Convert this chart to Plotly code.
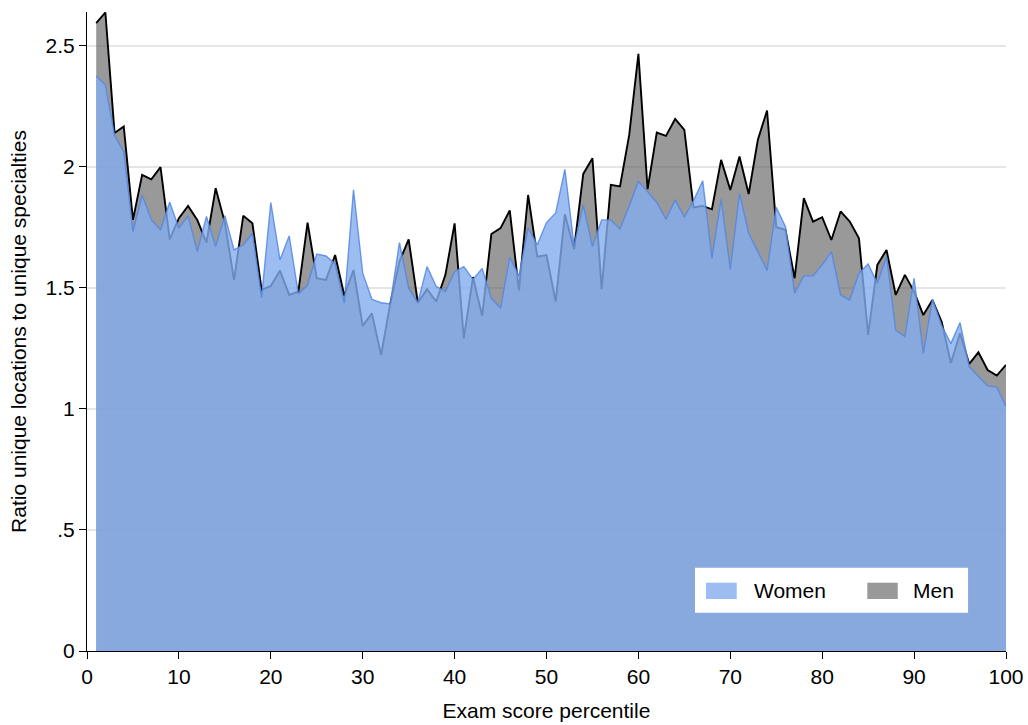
import plotly.graph_objects as go

percentile = list(range(1, 101))

women = [2.376, 2.339, 2.130, 2.063, 1.733, 1.884, 1.781, 1.740, 1.854, 1.747,
         1.798, 1.650, 1.795, 1.671, 1.798, 1.657, 1.678, 1.726, 1.460, 1.853,
         1.616, 1.715, 1.475, 1.512, 1.640, 1.632, 1.600, 1.437, 1.905, 1.561,
         1.453, 1.439, 1.434, 1.687, 1.499, 1.439, 1.588, 1.506, 1.485, 1.567,
         1.588, 1.535, 1.581, 1.457, 1.416, 1.627, 1.550, 1.747, 1.678, 1.770,
         1.810, 1.990, 1.674, 1.843, 1.671, 1.781, 1.781, 1.743, 1.839, 1.940,
         1.898, 1.853, 1.784, 1.864, 1.792, 1.861, 1.943, 1.623, 1.866, 1.577,
         1.891, 1.726, 1.650, 1.572, 1.833, 1.753, 1.478, 1.550, 1.550, 1.595,
         1.650, 1.471, 1.450, 1.561, 1.599, 1.519, 1.629, 1.326, 1.299, 1.540,
         1.230, 1.453, 1.345, 1.270, 1.357, 1.175, 1.134, 1.095, 1.090, 1.010]

men = [2.594, 2.638, 2.140, 2.167, 1.781, 1.967, 1.949, 1.999, 1.701, 1.788,
       1.839, 1.781, 1.687, 1.912, 1.770, 1.533, 1.798, 1.767, 1.492, 1.508,
       1.572, 1.471, 1.485, 1.770, 1.540, 1.533, 1.636, 1.469, 1.574, 1.343,
       1.395, 1.223, 1.435, 1.609, 1.701, 1.439, 1.495, 1.444, 1.554, 1.767,
       1.292, 1.545, 1.384, 1.723, 1.747, 1.820, 1.490, 1.884, 1.629, 1.636,
       1.444, 1.804, 1.660, 1.971, 2.036, 1.495, 1.926, 1.919, 2.132, 2.467,
       1.908, 2.142, 2.128, 2.198, 2.153, 1.833, 1.839, 1.825, 2.029, 1.905,
       2.043, 1.888, 2.112, 2.233, 1.751, 1.740, 1.540, 1.871, 1.774, 1.792,
       1.698, 1.816, 1.774, 1.705, 1.306, 1.595, 1.657, 1.471, 1.554, 1.485,
       1.388, 1.450, 1.360, 1.190, 1.313, 1.186, 1.234, 1.161, 1.138, 1.182]

x_ticks = [0, 10, 20, 30, 40, 50, 60, 70, 80, 90, 100]
y_ticks = [0, 0.5, 1, 1.5, 2, 2.5]
y_tick_labels = ["0", ".5", "1", "1.5", "2", "2.5"]

FONT = "Liberation Sans, Arial, Helvetica, sans-serif"
FS = 21

fig = go.Figure()
fig.add_trace(go.Scatter(
    x=percentile, y=men, name="Men", mode="lines", fill="tozeroy",
    fillcolor="rgba(85,85,85,0.6)", line=dict(color="black", width=1.9),
    showlegend=False))
fig.add_trace(go.Scatter(
    x=percentile, y=women, name="Women", mode="lines", fill="tozeroy",
    fillcolor="rgba(131,172,239,0.8)", line=dict(color="rgba(85,135,225,0.85)", width=1.4),
    showlegend=False))

# legend (Stata-style box)
shapes = [
    dict(type="rect", xref="paper", yref="paper", x0=0.6616, x1=0.9587, y0=0.0599, y1=0.1304,
         fillcolor="white", line=dict(width=0), layer="above"),
    dict(type="rect", xref="paper", yref="paper", x0=0.6736, x1=0.7070, y0=0.0814, y1=0.1069,
         fillcolor="#9cbcf2", line=dict(width=0), layer="above"),
    dict(type="rect", xref="paper", yref="paper", x0=0.8491, x1=0.8822, y0=0.0814, y1=0.1069,
         fillcolor="#999999", line=dict(width=0), layer="above"),
]
annotations = [
    dict(x=0.7236, y=0.0944, xref="paper", yref="paper", text="Women", showarrow=False,
         xanchor="left", yanchor="middle", font=dict(family=FONT, size=FS, color="black")),
    dict(x=0.8970, y=0.0944, xref="paper", yref="paper", text="Men", showarrow=False,
         xanchor="left", yanchor="middle", font=dict(family=FONT, size=FS, color="black")),
]

fig.update_layout(
    width=1028, height=725,
    margin=dict(l=87, r=22, t=12, b=74, pad=0),
    paper_bgcolor="white", plot_bgcolor="white",
    font=dict(family=FONT, size=FS, color="black"),
    shapes=shapes, annotations=annotations,
    xaxis=dict(range=[0, 100], tickvals=x_ticks, ticks="outside", ticklen=7, tickwidth=1,
               tickcolor="black", showline=True, linecolor="black", linewidth=1.2,
               showgrid=False, zeroline=False, automargin=False,
               title=dict(text="Exam score percentile", standoff=16,
                          font=dict(family=FONT, size=FS))),
    yaxis=dict(range=[0, 2.64], tickvals=y_ticks, ticktext=y_tick_labels, ticks="outside",
               ticklen=7, tickwidth=1, tickcolor="black", showline=True, linecolor="black",
               linewidth=1.2, showgrid=True, gridcolor="#e5e5e5", gridwidth=1.6,
               zeroline=False, automargin=False,
               title=dict(text="Ratio unique locations to unique specialties", standoff=13,
                          font=dict(family=FONT, size=FS))),
)

fig.write_html("out.html")
